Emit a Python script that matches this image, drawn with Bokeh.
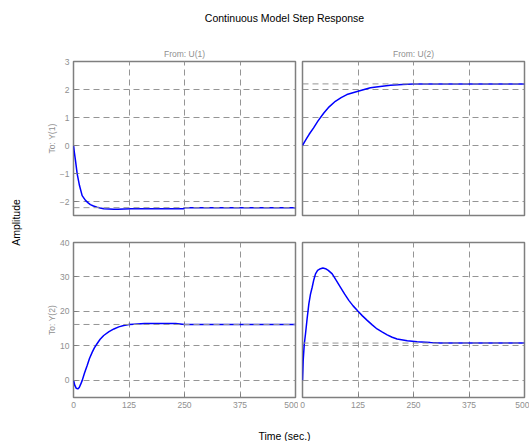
import math
from bokeh.plotting import figure
from bokeh.models import Range1d, FixedTicker, Span, Label
from bokeh.layouts import gridplot, row, column
from bokeh.embed import file_html
from bokeh.resources import INLINE

# ---------------- data ----------------
chart_title = "Continuous Model Step Response"
input_names = ["From: U(1)", "From: U(2)"]
output_names = ["To: Y(1)", "To: Y(2)"]
x_label = "Time (sec.)"
y_label = "Amplitude"
x_ticks = [0, 125, 250, 375, 500]
y1_ticks = [-2, -1, 0, 1, 2, 3]
y2_ticks = [0, 10, 20, 30, 40]

# Y(1) from U(1)
t11 = [0, 2, 4.5, 8.3, 13.5, 19.5, 27, 33, 38, 45, 53, 60, 68, 80, 91, 100,
       113, 130, 160, 200, 248, 250, 500]
v11 = [0, -0.25, -0.54, -1.01, -1.43, -1.79, -1.96, -2.05, -2.11, -2.16, -2.2, -2.23,
       -2.26, -2.27, -2.28, -2.28, -2.27, -2.26, -2.26, -2.26, -2.26, -2.22, -2.22]
ss11 = -2.22

# Y(1) from U(2)
t12 = [0, 5, 10, 15, 25, 35, 48, 60, 74, 87, 100, 125, 153, 175, 198, 225, 250, 500]
v12 = [0, 0.14, 0.27, 0.4, 0.63, 0.88, 1.16, 1.38, 1.58, 1.71, 1.82, 1.94, 2.06, 2.11,
       2.15, 2.18, 2.2, 2.2]
ss12 = 2.2

# Y(2) from U(1)
t21 = [0, 3, 6, 9.8, 13, 16, 19.5, 25, 30.8, 36, 42, 47, 53, 60, 68, 80, 91, 102, 113,
       125, 136, 160, 200, 230, 250, 500]
v21 = [0, -1.5, -2.3, -2.5, -2.1, -1.2, -0.1, 2.2, 4.3, 6.3, 8.1, 9.4, 10.6, 11.9, 13,
       14.1, 14.9, 15.5, 15.9, 16.2, 16.3, 16.5, 16.5, 16.5, 16.2, 16.2]
ss21 = 16.2

# Y(2) from U(2)
t22 = [0, 1.5, 4, 6.8, 10.5, 14.3, 18, 21.8, 25.5, 29.3, 34, 40.5, 46, 51.8, 58, 66.9,
       75, 85.6, 95, 104.3, 114, 124.6, 135, 145.7, 157, 168, 180, 190.8, 202, 213,
       236, 258, 288, 310, 500]
v22 = [0, 5.7, 10.5, 13.5, 18, 22.2, 25, 27, 29.2, 30.9, 31.9, 32.4, 32.6, 32.4, 31.9,
       30.9, 29.2, 27, 25, 23.2, 21.6, 20.1, 18.7, 17.4, 16.1, 14.9, 14, 13.2, 12.5, 12,
       11.5, 11.2, 10.96, 10.8, 10.8]
ss22 = 10.8

# ---------------- styles ----------------
FONT = "Liberation Sans"
GRAY_TXT = "#8f8f8f"
GRID = "#959595"
FRAME = "#7f7f7f"
BLUE = "#0000ff"

AMP_W = 30
LEFT_W, RIGHT_W = 268, 231
TITLE_H, ROW1_H, ROW2_H, TIME_H = 35, 182, 199, 25


def text_fig(w, h):
    p = figure(width=w, height=h, x_range=Range1d(0, w), y_range=Range1d(0, h),
               output_backend="svg", toolbar_location=None, min_border=0)
    p.axis.visible = False
    p.grid.visible = False
    p.outline_line_color = None
    return p


def panel(w, h, mbl, mbr, mbt, mbb, yr, yticks, show_y, show_x, title, ylab):
    p = figure(width=w, height=h, x_range=Range1d(0, 500), y_range=Range1d(*yr),
               output_backend="svg", toolbar_location=None,
               min_border_left=mbl, min_border_right=mbr,
               min_border_top=mbt, min_border_bottom=mbb)
    if title:
        p.title.text = title
        p.title.align = "center"
        p.title.text_font = FONT
        p.title.text_font_size = "8.5px"
        p.title.text_font_style = "normal"
        p.title.text_color = GRAY_TXT
        p.title.standoff = 5
    p.outline_line_color = FRAME
    p.outline_line_width = 1.5
    p.outline_line_alpha = 1.0
    for ax in p.xaxis + p.yaxis:
        ax.axis_line_color = None
        ax.major_tick_in = 4
        ax.major_tick_out = 0
        ax.minor_tick_line_color = None
        ax.major_tick_line_color = FRAME
        ax.major_label_text_font = FONT
        ax.major_label_text_font_size = "8.5px"
        ax.major_label_text_color = GRAY_TXT
    p.xaxis.ticker = FixedTicker(ticks=x_ticks)
    p.yaxis.ticker = FixedTicker(ticks=yticks)
    p.xaxis.major_label_standoff = 4
    p.yaxis.major_label_standoff = 4
    p.xgrid.ticker = FixedTicker(ticks=x_ticks)
    p.ygrid.ticker = FixedTicker(ticks=yticks)
    for g in (p.xgrid, p.ygrid):
        g.grid_line_color = GRID
        g.grid_line_dash = "6 4"
        g.grid_line_width = 1
    if not show_x:
        p.xaxis.visible = False
    if not show_y:
        p.yaxis.visible = False
    else:
        p.yaxis.axis_label = ylab
        p.yaxis.axis_label_text_font = FONT
        p.yaxis.axis_label_text_font_size = "8.5px"
        p.yaxis.axis_label_text_font_style = "normal"
        p.yaxis.axis_label_text_color = GRAY_TXT
        p.yaxis.axis_label_standoff = 0
    return p


p11 = panel(LEFT_W, ROW1_H, 43, 3, 26, 2, (-2.5, 3), y1_ticks, True, False, input_names[0], output_names[0])
p12 = panel(RIGHT_W, ROW1_H, 4, 5, 26, 2, (-2.5, 3), y1_ticks, False, False, input_names[1], None)
p21 = panel(LEFT_W, ROW2_H, 43, 3, 25, 19, (-5, 40), y2_ticks, True, True, None, output_names[1])
p22 = panel(RIGHT_W, ROW2_H, 4, 5, 25, 19, (-5, 40), y2_ticks, False, True, None, None)

for p, t, v, ss in ((p11, t11, v11, ss11), (p12, t12, v12, ss12),
                    (p21, t21, v21, ss21), (p22, t22, v22, ss22)):
    p.line(t, v, line_color=BLUE, line_width=1.5)
    p.add_layout(Span(location=ss, dimension="width", line_color=GRID,
                      line_dash="6 4", line_width=1))

grid = gridplot([[p11, p12], [p21, p22]], toolbar_location=None)

tf = text_fig(AMP_W + LEFT_W + RIGHT_W, TITLE_H)
tf.add_layout(Label(x=284, y=TITLE_H - 17, text=chart_title, text_align="center",
                    text_baseline="middle", text_font=FONT, text_font_size="10.5px",
                    text_color="black"))

af = text_fig(AMP_W, ROW1_H + ROW2_H)
af.add_layout(Label(x=15, y=ROW1_H + ROW2_H - 187, text=y_label, text_align="center",
                    text_baseline="middle", angle=math.pi / 2, text_font=FONT,
                    text_font_size="10.5px", text_color="black"))

bf = text_fig(AMP_W + LEFT_W + RIGHT_W, TIME_H)
bf.add_layout(Label(x=284, y=TIME_H - (435 - TITLE_H - ROW1_H - ROW2_H), text=x_label,
                    text_align="center", text_baseline="middle", text_font=FONT,
                    text_font_size="10.5px", text_color="black"))

layout = column(tf, row(af, grid), bf)

open("out.html", "w").write(file_html(layout, INLINE))
